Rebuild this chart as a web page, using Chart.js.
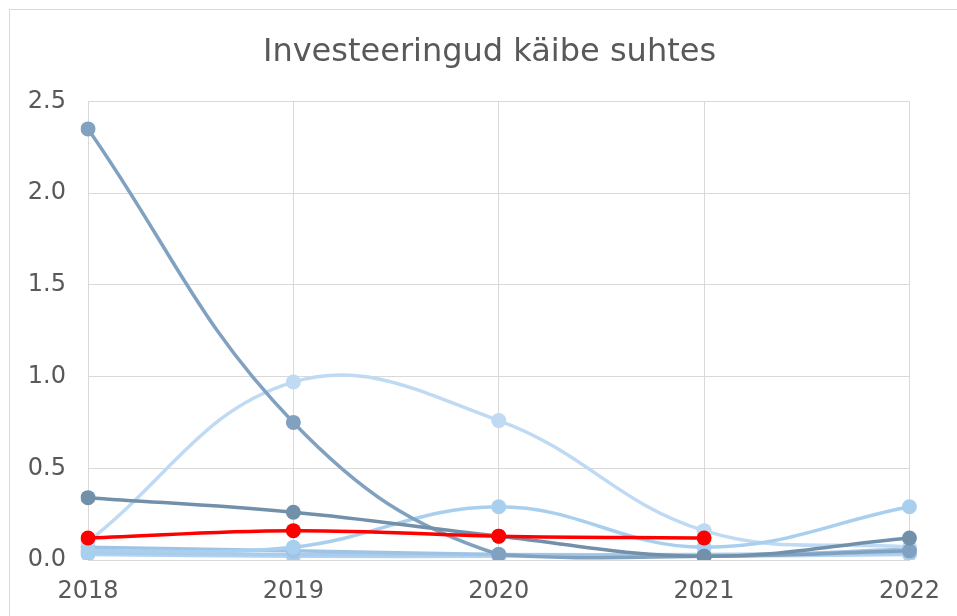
<!DOCTYPE html>
<html>
<head>
<meta charset="utf-8">
<script src="https://cdn.jsdelivr.net/npm/chart.js@4"></script>
<style>
  html, body { margin: 0; padding: 0; background: #fff; overflow: hidden; }
  #frame { position: absolute; left: 9px; top: 9px; width: 1000px; height: 700px; border: 1px solid #d9d9d9; }
  #wrap { position: absolute; left: 0; top: 0; width: 957px; height: 616px; }
</style>
</head>
<body>
<div id="frame"></div>
<div id="wrap"><canvas id="chart" width="957" height="616"></canvas></div>
<script>
// years on the x axis
const years = ["2018", "2019", "2020", "2021", "2022"];

// values, one array per line
const redLine   = [0.12, 0.16, 0.13, 0.12, null];
const steelLine = [2.35, 0.75, 0.03, 0.02, 0.05];
const paleLine  = [0.10, 0.97, 0.76, 0.16, 0.07];
const slateLine = [0.34, 0.26, 0.13, 0.02, 0.12];
const skyLine   = [0.05, 0.07, 0.29, 0.07, 0.29];
const lowLine1  = [0.07, 0.05, 0.03, 0.02, 0.06];
const lowLine2  = [0.04, 0.03, 0.03, 0.03, 0.04];
const lowLine3  = [0.03, 0.02, 0.02, 0.02, 0.03];

const yTicks = [0, 0.5, 1.0, 1.5, 2.0, 2.5];

function line(data, color) {
    return {
        data,
        borderColor: color,
        backgroundColor: color,
        borderWidth: 3.5,
        pointRadius: 7.5,
        pointBorderWidth: 0,
        pointHoverRadius: 7.5,
        tension: 0.4,
        fill: false
    };
}

new Chart(document.getElementById("chart"), {
    type: "line",
    data: {
        labels: years,
        datasets: [
            line(redLine, "#ff0000"),
            line(slateLine, "#7290a9"),
            line(steelLine, "#80a2c0"),
            line(skyLine, "#a9cfef"),
            line(paleLine, "#bfdaf2"),
            line(lowLine1, "#9fc3e4"),
            line(lowLine2, "#a8cceb"),
            line(lowLine3, "#b3d3f0")
        ]
    },
    options: {
        responsive: false,
        animation: false,
        layout: { padding: { left: 28, right: 6, top: 0, bottom: 0 } },
        plugins: {
            legend: { display: false },
            tooltip: { enabled: false },
            title: {
                display: true,
                text: "Investeeringud käibe suhtes",
                color: "#595959",
                font: { family: "DejaVu Sans", size: 32, weight: "normal" },
                padding: { top: 33, bottom: 30 }
            }
        },
        scales: {
            x: {
                offset: false,
                grid: { color: "#d9d9d9", lineWidth: 1, drawTicks: false },
                border: { color: "#d9d9d9" },
                ticks: {
                    color: "#595959",
                    font: { family: "DejaVu Sans", size: 24 },
                    padding: 17,
                    maxRotation: 0
                },
                afterFit: s => { s.height = 56; }
            },
            y: {
                min: 0,
                max: 2.5,
                afterBuildTicks: s => { s.ticks = yTicks.map(v => ({ value: v })); },
                grid: { color: "#d9d9d9", lineWidth: 1, drawTicks: false },
                border: { display: false },
                ticks: {
                    color: "#595959",
                    font: { family: "DejaVu Sans", size: 24 },
                    padding: 22,
                    callback: v => v.toFixed(1)
                },
                afterFit: s => { s.width = 60; }
            },
            // empty right-hand spacer so the title sits where it does in the original
            spacer: {
                position: "right",
                grid: { display: false },
                border: { display: false },
                ticks: { display: false },
                afterFit: s => { s.width = 41; }
            }
        }
    }
});
</script>
</body>
</html>
